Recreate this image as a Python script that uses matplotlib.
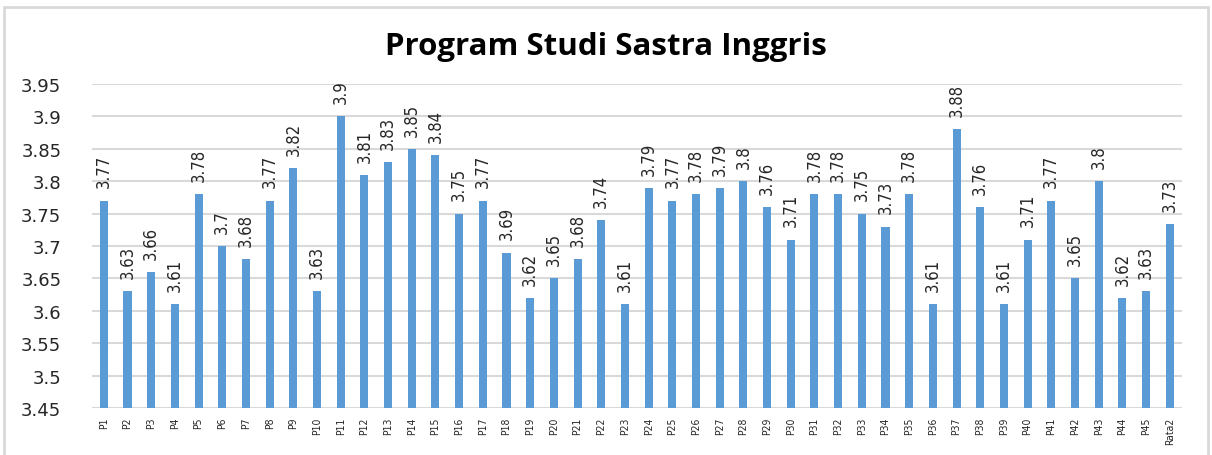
import matplotlib.pyplot as plt
from matplotlib.patches import Rectangle

labels = ["P%d" % i for i in range(1, 46)] + ["Rata2"]
nilai = [3.77, 3.63, 3.66, 3.61, 3.78, 3.70, 3.68, 3.77, 3.82, 3.63,
         3.90, 3.81, 3.83, 3.85, 3.84, 3.75, 3.77, 3.69, 3.62, 3.65,
         3.68, 3.74, 3.61, 3.79, 3.77, 3.78, 3.79, 3.80, 3.76, 3.71,
         3.78, 3.78, 3.75, 3.73, 3.78, 3.61, 3.88, 3.76, 3.61, 3.71,
         3.77, 3.65, 3.80, 3.62, 3.63, 3.734]
yticks = [3.45, 3.5, 3.55, 3.6, 3.65, 3.7, 3.75, 3.8, 3.85, 3.9, 3.95]


def fmt(v):
    return ("%.2f" % v).rstrip("0").rstrip(".")


fig = plt.figure(figsize=(12.12, 4.56), dpi=100)
ax = fig.add_axes([0.0759, 0.103, 0.899, 0.7105])

x = range(len(labels))
ax.bar(x, [v - 3.45 for v in nilai], bottom=3.45, width=0.34,
       color="#5B9BD5", zorder=3)
for i, v in enumerate(nilai):
    ax.annotate(fmt(v), (i, v), xytext=(0, 9.5), textcoords="offset points",
                rotation=90, ha="center", va="bottom", fontsize=12,
                fontstretch="condensed", color="#262626",
                annotation_clip=False)

ax.set_xlim(-0.5, len(labels) - 0.5)
ax.set_ylim(3.45, 3.95)
ax.set_yticks(yticks)
ax.set_yticklabels([fmt(t) for t in yticks], fontsize=13, color="#262626")
ax.set_xticks(list(x))
ax.set_xticklabels(labels, rotation=90, fontsize=7.5, fontstretch="condensed",
                   color="#262626")
ax.tick_params(length=0, pad=6)
ax.tick_params(axis="y", pad=22)
ax.grid(axis="y", color="#d9d9d9", linewidth=1.5, zorder=0)
for s in ax.spines.values():
    s.set_visible(False)

fig.text(0.5, 0.898, "Program Studi Sastra Inggris", ha="center", va="center",
         fontsize=22.5, fontweight="bold", family="Open Sans", color="black")

# bingkai luar
fig.patches.append(Rectangle((4 / 1212, -0.02), 1 - 8 / 1212, 1 - 8 / 456 + 0.02,
                             transform=fig.transFigure, fill=False,
                             edgecolor="#d9d9d9", linewidth=2))

fig.savefig("out.png", dpi=100)
